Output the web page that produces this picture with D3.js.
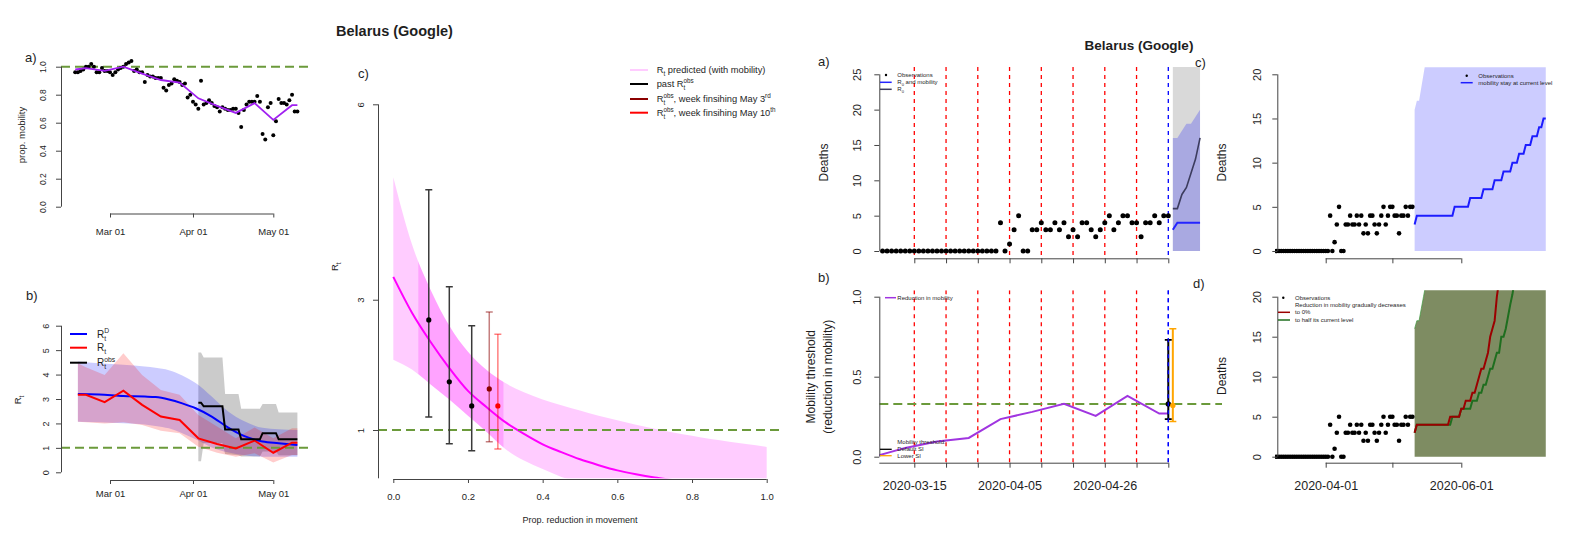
<!DOCTYPE html>
<html><head><meta charset="utf-8">
<script src="https://cdn.jsdelivr.net/npm/d3@7"></script>
<style>
body{margin:0;background:#fff;}
svg text{font-family:"Liberation Sans",Arial,Helvetica,sans-serif;white-space:pre;}
</style></head><body>
<svg id="c" width="1579" height="534"></svg>
<script>
// ================= DATA =================
// Left a) proportional mobility (daily, from 2020-02-17)
const mobilityStart = "2020-02-17";
const mobilityObs = [0.96,0.96,0.97,0.98,1.0,1.0,1.02,1.0,0.96,0.96,0.99,0.97,0.97,0.96,0.94,0.96,0.98,0.99,1.0,1.02,1.03,1.04,0.97,0.98,0.96,0.96,0.89,0.94,0.93,0.93,0.92,0.92,0.92,0.85,0.83,0.87,0.88,0.91,0.90,0.89,0.87,0.88,0.78,0.80,0.75,0.73,0.70,0.90,0.73,0.74,0.76,0.74,0.72,0.71,0.68,0.71,0.70,0.69,0.69,0.70,0.70,0.67,0.57,0.69,0.73,0.75,0.75,0.75,0.79,0.75,0.52,0.48,0.71,0.74,0.51,0.61,0.77,0.74,0.74,0.73,0.76,0.80,0.68,0.68];
const mobilityWeekDates = ["2020-02-17","2020-02-21","2020-02-28","2020-03-06","2020-03-13","2020-03-20","2020-03-27","2020-04-03","2020-04-10","2020-04-17","2020-04-24","2020-05-01","2020-05-08","2020-05-10"];
const mobilityWeek = [0.98,0.99,0.97,1.0,0.95,0.905,0.886,0.774,0.72,0.67,0.74,0.62,0.725,0.725];
const leftTickDates = ["2020-03-01","2020-04-01","2020-05-01"];

// Left b) Rt estimates
const rtDates = ["2020-02-18","2020-02-21","2020-02-28","2020-03-06","2020-03-13","2020-03-20","2020-03-27","2020-04-03","2020-04-10","2020-04-17","2020-04-24","2020-05-01","2020-05-08","2020-05-10"];
const rtRed   = [3.17,3.17,2.87,3.34,2.76,2.28,2.14,1.39,1.16,0.98,1.30,0.80,1.21,1.21];
const rtRedLo = [2.07,2.05,2.00,2.05,1.94,1.70,1.60,1.05,0.80,0.64,0.78,0.40,0.71,0.71];
const rtRedHi = [4.46,4.30,3.98,4.87,3.98,3.37,3.17,2.35,1.87,1.39,1.83,1.39,1.80,1.80];
const rtDDates = ["2020-02-18","2020-02-26","2020-03-06","2020-03-14","2020-03-18","2020-03-23","2020-03-28","2020-04-02","2020-04-08","2020-04-14","2020-04-20","2020-04-27","2020-05-03","2020-05-10"];
const rtD   = [3.20,3.18,3.12,3.10,3.08,2.98,2.82,2.62,2.28,1.84,1.49,1.26,1.19,1.12];
const rtDHi = [4.53,4.46,4.40,4.33,4.28,4.18,3.96,3.65,3.10,2.50,2.10,1.82,1.76,1.73];
const rtDLo = [2.07,2.05,2.01,1.96,1.90,1.80,1.60,1.35,1.02,0.82,0.70,0.64,0.64,0.64];
const rtObsDates = ["2020-04-03","2020-04-04","2020-04-05","2020-04-12","2020-04-13","2020-04-18","2020-04-19","2020-04-26","2020-04-27","2020-05-02","2020-05-03","2020-05-10"];
const rtObs   = [2.85,2.85,2.70,2.70,1.75,1.75,1.35,1.35,1.60,1.60,1.35,1.35];
const rtObsHi = [4.90,4.90,4.70,4.70,3.20,3.20,2.60,2.60,2.80,2.80,2.45,2.45];
const rtObsLo = [0.45,0.45,1.20,1.20,0.75,0.70,0.65,0.65,0.85,0.85,0.70,0.70];

// Middle c) Rt vs reduction in movement
const redX   = [0,0.05,0.1,0.15,0.2,0.25,0.3,0.35,0.4,0.45,0.5,0.55,0.6,0.65,0.7,0.75,0.8,0.85,0.9,0.95,1.0];
const predMid = [3.35,2.80,2.35,1.95,1.60,1.35,1.12,0.94,0.78,0.66,0.55,0.46,0.38,0.32,0.27,0.23,0.19,0.16,0.14,0.12,0.10];
const predHi  = [4.88,3.85,3.15,2.60,2.20,1.92,1.72,1.58,1.47,1.38,1.30,1.22,1.15,1.08,1.02,0.96,0.91,0.86,0.82,0.78,0.74];
const predLo  = [2.08,1.93,1.70,1.47,1.22,0.97,0.71,0.53,0.40,0.28,0.20,0.14,0.10,0.07,0.05,0.04,0.03,0.02,0.015,0.01,0.01];
const observedRange = [0.067, 0.295];
const pastX = [0.095,0.15,0.21], pastR = [2.69,1.74,1.37], pastLo = [1.20,0.79,0.68], pastHi = [4.69,3.20,2.60];
const may3X = 0.257, may3R = 1.63, may3Lo = 0.82, may3Hi = 2.81;
const may10X = 0.28, may10R = 1.37, may10Lo = 0.71, may10Hi = 2.47;
const cYTicks = [1,3,6];
const cXTicks = [0,0.2,0.4,0.6,0.8,1.0];

// Right a) deaths (daily from 2020-03-08)
const deathStart = "2020-03-08";
const deaths = [0,0,0,0,0,0,0,0,0,0,0,0,0,0,0,0,0,0,0,0,0,0,0,0,0,0,4,0,1,3,5,0,0,3,3,4,3,3,4,3,4,2,3,2,4,4,3,2,3,4,5,3,4,5,5,4,4,2,4,4,5,4,5,5];
const weekTicks = ["2020-03-15","2020-03-22","2020-03-29","2020-04-05","2020-04-12","2020-04-19","2020-04-26","2020-05-03","2020-05-10"];
const projStart = "2020-05-11";
const aR0mob = [3,4,4,4,4,4,4];
const aR0 = [6,6,8,9,11,13,16];
const aUpper = [16,16,17,18,18,19,20];
const aLower = [0,0,0,0,0,0,0];
const aGreyUpper = [28,29,30,31,32,33,34];

// Right b) mobility reduction and threshold
const redWeekDates = ["2020-03-06","2020-03-13","2020-03-20","2020-03-27","2020-04-03","2020-04-10","2020-04-17","2020-04-24","2020-05-01","2020-05-08","2020-05-10"];
const redWeek = [0.0,0.055,0.095,0.117,0.235,0.28,0.33,0.255,0.38,0.27,0.27];
const thrDefault = {date:"2020-05-10", est:0.33, lo:0.235, hi:0.73};
const thrLowerSI = {date:"2020-05-11", est:0.32, lo:0.22, hi:0.80};

// Right c/d) projections (daily from 2020-05-11)
const cProjLine = [3,4,4,4,4,4,4,4,4,4,4,4,4,4,4,4,4,4,5,5,5,5,5,5,5,6,6,6,6,6,6,7,7,7,7,7,8,8,8,8,9,9,9,9,10,10,10,11,11,11,12,12,12,13,13,13,14,14,15,15];
const projUpper = [16,17,17,18.5,20,21.5,23,25,27,29,31,33,35,37,40,43,46,49,52,56,60,64,68,72,77,82,87,92,98,104,110,116,123,130,137,145,153,161,170,179,188,198,208,219,230,242,254,267,280,294,308,323,339,355,372,390,409,429,450,472];
const projLower = [0,0,0,0,0,0,0,0,0,0,0,0,0,0,0,0,0,0,0,0,0,0,0,0,0,0,0,0,0,0,0,0,0,0,0,0,0,0,0,0,0,0,0,0,0,0,0,0,0,0,0,0,0,0,0,0,0,0,0,0];
const dRedLine = [3,4,4,4,4,4,4,4,4,4,4,4,4,4,4,4,5,5,5,5,5,6,6,7,7,7,8,8,9,10,11,11,12,13,15,16,17,20,22,24,27,30,33,36,40,44,48,53,58,63,69,75,82,89,97,105,114,124,135,146];
const dGreenLine = [3,4,4,4,4,4,4,4,4,4,4,4,4,4,4,4,4,5,5,5,5,6,6,6,6,6,7,7,7,8,8,9,9,10,11,11,12,13,13,15,15,16,17.5,19,20.3,22,24,26,29,32,35,38,42,46,50,55,60,66,72,79];
const rcTicks = ["2020-04-01","2020-05-01","2020-06-01"];

// ================= DRAWING =================
const P = d3.utcParse("%Y-%m-%d");
const svg = d3.select("#c");
const defs = svg.append("defs");
const AX = "#444", TXT = "#1e1e1e", OLIVE = "#6b9a3b";
const FONT = "Liberation Sans, Arial, Helvetica, sans-serif";
const NB = s => s.replace(/ /g, "\u00a0");
let clipN = 0;
function clipG(x0,y0,x1,y1){
  const id = "clp"+(clipN++);
  defs.append("clipPath").attr("id",id).append("rect").attr("x",x0).attr("y",y0).attr("width",x1-x0).attr("height",y1-y0);
  return svg.append("g").attr("clip-path",`url(#${id})`);
}
function daily(start, arr){ const s = P(start); return arr.map((v,i)=>[d3.utcDay.offset(s,i), v]); }
function zipD(dates, arr){ return dates.map((d,i)=>[P(d), arr[i]]); }
function text(x,y,str,size,opts={}){
  const t = svg.append("text").attr("x",x).attr("y",y).attr("font-size",size).attr("fill",opts.fill||TXT).text(str);
  if(opts.anchor) t.attr("text-anchor",opts.anchor);
  if(opts.bold) t.attr("font-weight","bold");
  if(opts.rotate){ t.attr("x",0).attr("y",0).attr("text-anchor","middle").attr("transform",`translate(${x+size*0.36},${y}) rotate(-90)`); }
  return t;
}
// rich text with R_sub^sup segments
function rich(parent, x, y, size, segs, opts={}){
  const outer = parent.append("g").attr("transform",`translate(${x},${y})`+(opts.rotate?` rotate(${opts.rotate})`:""));
  const g = outer.append("g");
  let cx = 0;
  segs.forEach(s=>{
    if(s.t!==undefined){
      const t = g.append("text").attr("x",cx).attr("y",0).attr("font-size",size).attr("fill",TXT).text(NB(s.t));
      cx += t.node().getComputedTextLength();
    } else {
      let w = 0;
      if(s.sub){ const t = g.append("text").attr("x",cx).attr("y",size*0.3).attr("font-size",size*0.68).attr("fill",TXT).text(s.sub); w = Math.max(w,t.node().getComputedTextLength()); }
      if(s.sup){ const t = g.append("text").attr("x",cx).attr("y",-size*0.42).attr("font-size",size*0.68).attr("fill",TXT).text(s.sup); w = Math.max(w,t.node().getComputedTextLength()); }
      cx += w;
    }
  });
  if(opts.center) g.attr("transform",`translate(${-cx/2},0)`);
  return outer;
}
function leftAxis(scale, x, ticks, fmt, size, labelCx, lineRange, tickLen=5){
  const ax = d3.axisLeft(scale).tickValues(ticks).tickFormat(fmt).tickSize(tickLen).tickSizeOuter(0);
  const g = svg.append("g").attr("transform",`translate(${x},0)`).call(ax).attr("font-family",FONT);
  g.select(".domain").remove();
  const ys = lineRange || d3.extent(ticks.map(t=>scale(t)));
  g.append("line").attr("x1",0.5).attr("x2",0.5).attr("y1",ys[0]).attr("y2",ys[1]).attr("stroke",AX);
  g.selectAll(".tick line").attr("stroke",AX);
  g.selectAll(".tick text").attr("x",0).attr("dy",0).attr("y",0).attr("text-anchor","middle").attr("font-size",size).attr("fill",TXT)
    .attr("transform",`translate(${labelCx - x + size*0.36},0) rotate(-90)`);
  return g;
}
function bottomAxis(scale, y, ticks, fmt, size, labelCy, lineRange, tickLen=4){
  const ax = d3.axisBottom(scale).tickValues(ticks).tickFormat(fmt).tickSize(tickLen).tickSizeOuter(0);
  const g = svg.append("g").attr("transform",`translate(0,${y})`).call(ax).attr("font-family",FONT);
  g.select(".domain").remove();
  const xs = lineRange || d3.extent(ticks.map(t=>scale(t)));
  g.append("line").attr("x1",xs[0]).attr("x2",xs[1]).attr("y1",0.5).attr("y2",0.5).attr("stroke",AX);
  g.selectAll(".tick line").attr("stroke",AX);
  g.selectAll(".tick text").attr("y",labelCy - y).attr("dy","0.35em").attr("font-size",size).attr("fill",TXT);
  return g;
}
function hdash(g, x0, x1, y){ g.append("line").attr("x1",x0).attr("x2",x1).attr("y1",y).attr("y2",y).attr("stroke",OLIVE).attr("stroke-width",2).attr("stroke-dasharray","9,5"); }

// ---------- Left a) ----------
const xL = d3.scaleUtc().domain([P("2020-03-01"),P("2020-05-01")]).range([110,273.3]);
const yA = d3.scaleLinear().domain([0,1]).range([206.7,66.7]);
{
  const g = clipG(61,58,308,213);
  hdash(g,61,308,yA(1));
  g.selectAll("circle").data(daily(mobilityStart,mobilityObs)).join("circle")
    .attr("cx",d=>xL(d[0])).attr("cy",d=>yA(d[1])).attr("r",2).attr("fill","#000");
  g.append("path").datum(zipD(mobilityWeekDates,mobilityWeek)).attr("fill","none").attr("stroke","#a020f0").attr("stroke-width",1.8)
    .attr("d",d3.line().x(d=>xL(d[0])).y(d=>yA(d[1])));
  leftAxis(yA,61,[0,0.2,0.4,0.6,0.8,1.0],d3.format(".1f"),8.5,42.5);
  bottomAxis(xL,213.5,leftTickDates.map(P),d3.utcFormat("%b %d"),9.5,231.5);
  text(25,62,"a)",13);
  text(21.7,135,"prop. mobility",9.5,{rotate:true});
}

// ---------- Left b) ----------
const yB = d3.scaleLinear().domain([0,6]).range([472.3,325.7]);
{
  const g = clipG(61,318,308,480);
  const area = d3.area().x(d=>xL(d[0])).y0(d=>yB(d[1])).y1(d=>yB(d[2]));
  const tri = (dates,lo,hi)=>dates.map((d,i)=>[P(d),lo[i],hi[i]]);
  g.append("path").datum(tri(rtObsDates,rtObsLo,rtObsHi)).attr("fill","rgba(140,140,140,0.45)").attr("d",area);
  g.append("path").datum(tri(rtDDates,rtDLo,rtDHi)).attr("fill","rgba(0,0,255,0.2)").attr("d",area.curve(d3.curveMonotoneX));
  g.append("path").datum(tri(rtDates,rtRedLo,rtRedHi)).attr("fill","rgba(255,0,0,0.2)").attr("d",d3.area().x(d=>xL(d[0])).y0(d=>yB(d[1])).y1(d=>yB(d[2])));
  hdash(g,61,308,yB(1));
  g.append("path").datum(zipD(rtDDates,rtD)).attr("fill","none").attr("stroke","#0000ff").attr("stroke-width",2).attr("d",d3.line().x(d=>xL(d[0])).y(d=>yB(d[1])).curve(d3.curveMonotoneX));
  g.append("path").datum(zipD(rtDates,rtRed)).attr("fill","none").attr("stroke","#ff0000").attr("stroke-width",2).attr("d",d3.line().x(d=>xL(d[0])).y(d=>yB(d[1])));
  g.append("path").datum(zipD(rtObsDates,rtObs)).attr("fill","none").attr("stroke","#000").attr("stroke-width",2).attr("d",d3.line().x(d=>xL(d[0])).y(d=>yB(d[1])));
  leftAxis(yB,61,[0,1,2,3,4,5,6],d3.format("d"),9,45.8);
  bottomAxis(xL,480,leftTickDates.map(P),d3.utcFormat("%b %d"),9.5,494);
  text(26,300,"b)",13);
  rich(svg,18+3.4,400,9.5,[{t:"R"},{sub:"t"}],{rotate:-90,center:true});
  const leg = [["#0000ff","D",334],["#ff0000",null,347.7],["#000",'obs',362.7]];
  leg.forEach(([c,sup,y])=>{
    svg.append("line").attr("x1",70).attr("x2",87).attr("y1",y).attr("y2",y).attr("stroke",c).attr("stroke-width",2);
    rich(svg,97,y+3.5,10,[{t:"R"},{sub:"t",sup:sup}]);
  });
}

// ---------- Middle c) ----------
const xC = d3.scaleLinear().domain([0,1]).range([393.3,766.7]);
const yC = d3.scaleLinear().domain([1,6]).range([430,104.3]);
{
  const g = clipG(378,95,782,478.3);
  const pts = redX.map((x,i)=>[x,predLo[i],predHi[i],predMid[i]]);
  const area = d3.area().x(d=>xC(d[0])).y0(d=>yC(d[1])).y1(d=>yC(d[2])).curve(d3.curveMonotoneX);
  g.append("path").datum(pts).attr("fill","rgba(255,0,255,0.2)").attr("d",area);
  const id = "clpObs";
  defs.append("clipPath").attr("id",id).append("rect").attr("x",xC(observedRange[0])).attr("y",0).attr("width",xC(observedRange[1])-xC(observedRange[0])).attr("height",534);
  g.append("g").attr("clip-path",`url(#${id})`).append("path").datum(pts).attr("fill","rgba(255,0,255,0.2)").attr("d",area);
  g.append("path").datum(pts).attr("fill","none").attr("stroke","#ff00ff").attr("stroke-width",2)
    .attr("d",d3.line().x(d=>xC(d[0])).y(d=>yC(d[3])).curve(d3.curveMonotoneX));
  hdash(g,378,782,yC(1));
  const ebar = (x,r,lo,hi,barCol,ptCol)=>{
    const X = xC(x);
    g.append("line").attr("x1",X).attr("x2",X).attr("y1",yC(lo)).attr("y2",yC(hi)).attr("stroke",barCol).attr("stroke-width",1.5);
    [lo,hi].forEach(v=>g.append("line").attr("x1",X-3.5).attr("x2",X+3.5).attr("y1",yC(v)).attr("y2",yC(v)).attr("stroke",barCol).attr("stroke-width",1.5));
    g.append("circle").attr("cx",X).attr("cy",yC(r)).attr("r",2.6).attr("fill",ptCol);
  };
  pastX.forEach((x,i)=>ebar(x,pastR[i],pastLo[i],pastHi[i],"#3a3a3a","#000"));
  ebar(may3X,may3R,may3Lo,may3Hi,"rgba(139,0,0,0.5)","#8b0000");
  ebar(may10X,may10R,may10Lo,may10Hi,"rgba(255,0,0,0.5)","#ff0000");
  leftAxis(yC,378,cYTicks,d3.format("d"),9.5,360.5,[yC(6),478.3]);
  bottomAxis(xC,479,cXTicks,d3.format(".1f"),9.5,496.7);
  text(580,522.5,"Prop. reduction in movement",9,{anchor:"middle"});
  rich(svg,335+3.4,266.7,9.5,[{t:"R"},{sub:"t"}],{rotate:-90,center:true});
  text(336,36,"Belarus (Google)",14.5,{bold:true});
  text(358,78,"c)",13);
  // legend
  const legC = [
    ["#ffccff",70,[{t:"R"},{sub:"t"},{t:" predicted (with mobility)"}]],
    ["#000",84,[{t:"past R"},{sub:"t",sup:"obs"}]],
    ["#8b0000",99,[{t:"R"},{sub:"t",sup:"obs"},{t:", week finsihing May 3"},{sup:"rd"}]],
    ["#ff0000",112.7,[{t:"R"},{sub:"t",sup:"obs"},{t:", week finsihing May 10"},{sup:"th"}]]
  ];
  legC.forEach(([c,y,segs])=>{
    svg.append("line").attr("x1",630).attr("x2",648).attr("y1",y).attr("y2",y).attr("stroke",c).attr("stroke-width",2);
    rich(svg,656.7,y+3.3,9.3,segs);
  });
}

// ---------- Right a) ----------
const xR = d3.scaleUtc().domain([P("2020-03-15"),P("2020-05-10")]).range([914.3,1168.3]);
const yRa = d3.scaleLinear().domain([0,25]).range([251,74.3]);
function vlines(g, y0, y1){
  weekTicks.forEach((d,i)=>{
    const X = xR(P(d));
    g.append("line").attr("x1",X).attr("x2",X).attr("y1",y0).attr("y2",y1)
      .attr("stroke", i===weekTicks.length-1 ? "#0000ff" : "#ff0000").attr("stroke-width",1.3).attr("stroke-dasharray","4,4");
  });
}
{
  const g = clipG(879.3,67,1222,258.3);
  const pr = (arr)=>daily(projStart,arr);
  const area = d3.area().x(d=>xR(d[0])).y0(d=>yRa(d[1])).y1(d=>yRa(d[2]));
  const s = P(projStart);
  g.append("path").datum(aGreyUpper.map((v,i)=>[d3.utcDay.offset(s,i),aLower[i],v])).attr("fill","#d9d9d9").attr("d",area);
  g.append("path").datum(aUpper.map((v,i)=>[d3.utcDay.offset(s,i),aLower[i],v])).attr("fill","rgba(0,0,255,0.22)").attr("d",area);
  vlines(g,67,258.3);
  const line = d3.line().x(d=>xR(d[0])).y(d=>yRa(d[1]));
  g.append("path").datum(pr(aR0)).attr("fill","none").attr("stroke","#3c3c5e").attr("stroke-width",1.6).attr("d",line);
  g.append("path").datum(pr(aR0mob)).attr("fill","none").attr("stroke","#2424ff").attr("stroke-width",2).attr("d",line);
  g.selectAll("circle").data(daily(deathStart,deaths)).join("circle").attr("cx",d=>xR(d[0])).attr("cy",d=>yRa(d[1])).attr("r",2.5).attr("fill","#000");
  leftAxis(yRa,879.3,[0,5,10,15,20,25],d3.format("d"),11,857.5);
  bottomAxis(xR,258.3,weekTicks.map(P),()=>"",11,270,null,5);
  text(828-4.3,162.5,"Deaths",12,{rotate:true});
  text(818,66,"a)",13);
  text(1139,50,"Belarus (Google)",13.5,{bold:true,anchor:"middle"});
  // legend
  svg.append("circle").attr("cx",886).attr("cy",75).attr("r",1.2).attr("fill","#000");
  text(897.3,77,"Observations",6);
  svg.append("line").attr("x1",880).attr("x2",891.7).attr("y1",82.3).attr("y2",82.3).attr("stroke","#2424ff").attr("stroke-width",1.5);
  rich(svg,897.3,84.3,6,[{t:"R"},{sub:"0"},{t:" and mobility"}]);
  svg.append("line").attr("x1",880).attr("x2",891.7).attr("y1",89.3).attr("y2",89.3).attr("stroke","#3c3c5e").attr("stroke-width",1.5);
  rich(svg,897.3,91.3,6,[{t:"R"},{sub:"0"}]);
}

// ---------- Right b) ----------
const yRb = d3.scaleLinear().domain([0,1]).range([456.7,296.7]);
{
  const g = clipG(879.3,290.3,1222,462.7);
  vlines(g,290.3,462.7);
  hdash(g,879.3,1222,yRb(thrDefault.est));
  g.append("path").datum(zipD(redWeekDates,redWeek)).attr("fill","none").attr("stroke","#a035e0").attr("stroke-width",2)
    .attr("d",d3.line().x(d=>xR(d[0])).y(d=>yRb(d[1])));
  const eb = (o,col)=>{
    const X = xR(P(o.date));
    g.append("line").attr("x1",X).attr("x2",X).attr("y1",yRb(o.lo)).attr("y2",yRb(o.hi)).attr("stroke",col).attr("stroke-width",2);
    [o.lo,o.hi].forEach(v=>g.append("line").attr("x1",X-3.5).attr("x2",X+3.5).attr("y1",yRb(v)).attr("y2",yRb(v)).attr("stroke",col).attr("stroke-width",1.6));
    g.append("circle").attr("cx",X).attr("cy",yRb(o.est)).attr("r",2.7).attr("fill",col);
  };
  eb(thrDefault,"#000");
  const X = xR(P(thrDefault.date));
  g.append("line").attr("x1",X).attr("x2",X).attr("y1",290.3).attr("y2",462.7).attr("stroke","#0000ff").attr("stroke-width",1.3).attr("stroke-dasharray","4,4");
  eb(thrLowerSI,"#ffa500");
  leftAxis(yRb,879.3,[0,0.5,1],d3.format(".1f"),11,857.5);
  bottomAxis(xR,462.7,weekTicks.map(P),(d,i)=> i%3===0 ? d3.utcFormat("%Y-%m-%d")(d) : "",12.5,486,[879.3,1168.3],5);
  text(815-4.3,376.7,"Mobility threshold",12,{rotate:true});
  text(832-4.3,376.7,"(reduction in mobility)",12,{rotate:true});
  text(818,281.7,"b)",13);
  svg.append("line").attr("x1",885).attr("x2",896).attr("y1",297.7).attr("y2",297.7).attr("stroke","#a035e0").attr("stroke-width",1.5);
  text(897.3,299.7,"Reduction in mobility",6);
  text(897.3,443.7,"Mobility threshold:",6);
  svg.append("line").attr("x1",880).attr("x2",891.7).attr("y1",449.3).attr("y2",449.3).attr("stroke","#000").attr("stroke-width",1.3);
  text(897.3,451.3,"Default SI",6);
  svg.append("line").attr("x1",880).attr("x2",891.7).attr("y1",455.7).attr("y2",455.7).attr("stroke","#ffa500").attr("stroke-width",1.3);
  text(897.3,457.7,"Lower SI",6);
}

// ---------- Right c) ----------
const xRc = d3.scaleUtc().domain([P("2020-04-01"),P("2020-06-01")]).range([1325.7,1461.3]);
const yRc = d3.scaleLinear().domain([0,20]).range([251,74.3]);
{
  const g = clipG(1275,67.3,1562,258.3);
  const s = P(projStart);
  g.append("path").datum(projUpper.map((v,i)=>[d3.utcDay.offset(s,i),projLower[i],v])).attr("fill","rgba(0,0,255,0.2)")
    .attr("d",d3.area().x(d=>xRc(d[0])).y0(d=>yRc(d[1])).y1(d=>yRc(d[2])));
  g.append("path").datum(daily(projStart,cProjLine)).attr("fill","none").attr("stroke","#1c1cff").attr("stroke-width",2)
    .attr("d",d3.line().x(d=>xRc(d[0])).y(d=>yRc(d[1])));
  g.selectAll("circle").data(daily(deathStart,deaths)).join("circle").attr("cx",d=>xRc(d[0])).attr("cy",d=>yRc(d[1])).attr("r",2.3).attr("fill","#000");
  leftAxis(yRc,1277.3,[0,5,10,15,20],d3.format("d"),11,1257.5);
  bottomAxis(xRc,258.3,rcTicks.map(P),()=>"",11,270,null,5);
  text(1225.7-4.3,162.5,"Deaths",12,{rotate:true});
  text(1195,67,"c)",13);
  svg.append("circle").attr("cx",1466.7).attr("cy",75.7).attr("r",1.2).attr("fill","#000");
  text(1478.3,77.7,"Observations",6);
  svg.append("line").attr("x1",1460.7).attr("x2",1472.7).attr("y1",82.7).attr("y2",82.7).attr("stroke","#1c1cff").attr("stroke-width",1.5);
  text(1478.3,84.7,"mobility stay at current level",6);
}

// ---------- Right d) ----------
const yRd = d3.scaleLinear().domain([0,20]).range([456.7,296.7]);
{
  const g = clipG(1275,290.3,1562,462.7);
  const s = P(projStart);
  const bandPts = projUpper.map((v,i)=>[d3.utcDay.offset(s,i),projLower[i],v]);
  g.append("path").datum(bandPts).attr("fill","#7e8c62")
    .attr("d",d3.area().x(d=>xRc(d[0])).y0(d=>yRd(d[1])).y1(d=>yRd(d[2])));
  g.append("path").datum(bandPts).attr("fill","none").attr("stroke","#3f9a3f").attr("stroke-width",1).attr("opacity",0.7)
    .attr("d",d3.line().x(d=>xRc(d[0])).y(d=>yRd(d[2])));
  const line = d3.line().x(d=>xRc(d[0])).y(d=>yRd(d[1]));
  g.append("path").datum(daily(projStart,dGreenLine)).attr("fill","none").attr("stroke","#1f6e1f").attr("stroke-width",2).attr("d",line);
  g.append("path").datum(daily(projStart,dRedLine)).attr("fill","none").attr("stroke","#9b0000").attr("stroke-width",2).attr("d",line);
  g.selectAll("circle").data(daily(deathStart,deaths)).join("circle").attr("cx",d=>xRc(d[0])).attr("cy",d=>yRd(d[1])).attr("r",2.3).attr("fill","#000");
  leftAxis(yRd,1277.3,[0,5,10,15,20],d3.format("d"),11,1257.5);
  bottomAxis(xRc,462.7,rcTicks.map(P),(d,i)=> i===1 ? "" : d3.utcFormat("%Y-%m-%d")(d),12.5,486,null,5);
  text(1225.7-4.3,376,"Deaths",12,{rotate:true});
  text(1193,288,"d)",13);
  svg.append("circle").attr("cx",1283.3).attr("cy",297.7).attr("r",1.2).attr("fill","#000");
  text(1295,299.7,"Observations",6);
  text(1295,307,"Reduction in mobility gradually decreases",6);
  svg.append("line").attr("x1",1278).attr("x2",1290).attr("y1",312.3).attr("y2",312.3).attr("stroke","#9b0000").attr("stroke-width",1.5);
  text(1295,314.3,"to 0%",6);
  svg.append("line").attr("x1",1278).attr("x2",1290).attr("y1",320).attr("y2",320).attr("stroke","#1f6e1f").attr("stroke-width",1.5);
  text(1295,322,"to half its current level",6);
}
</script>
</body></html>
